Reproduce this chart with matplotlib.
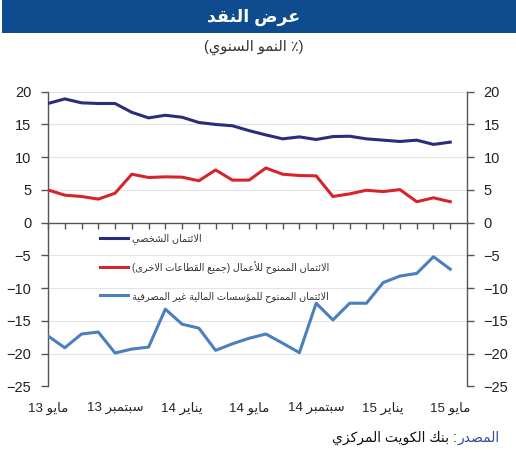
import re
import matplotlib
matplotlib.use("Agg")
import matplotlib.pyplot as plt
from matplotlib.patches import Rectangle

# ---------------- data ----------------
personal_credit = [18.2, 18.9, 18.3, 18.2, 18.2, 16.85, 16.0, 16.4, 16.1, 15.3, 15.0, 14.8, 14.05,
                   13.4, 12.8, 13.1, 12.7, 13.15, 13.2, 12.8, 12.6, 12.4, 12.6, 11.95, 12.3]
business_credit = [5.0, 4.2, 4.0, 3.6, 4.5, 7.4, 6.9, 7.0, 6.95, 6.4, 8.05, 6.5, 6.5,
                   8.35, 7.4, 7.2, 7.15, 4.0, 4.4, 4.95, 4.75, 5.05, 3.2, 3.8, 3.2]
nbfi_credit = [-17.3, -19.1, -17.0, -16.7, -19.9, -19.3, -19.0, -13.2, -15.5, -16.1, -19.5, -18.5, -17.65,
               -17.0, -18.4, -19.85, -12.3, -14.85, -12.3, -12.3, -9.15, -8.15, -7.75, -5.2, -7.1]
series_names = ["الائتمان الشخصي",
                "الائتمان الممنوح للأعمال (جميع القطاعات الاخرى)",
                "الائتمان الممنوح للمؤسسات المالية غير المصرفية"]
x_tick_labels = ["مايو 13", "سبتمبر 13", "يناير 14", "مايو 14", "سبتمبر 14", "يناير 15", "مايو 15"]
y_ticks = [-25, -20, -15, -10, -5, 0, 5, 10, 15, 20]
title = "عرض النقد"
subtitle = "(٪ النمو السنوي)"
source_label = "المصدر"
source_text = ": بنك الكويت المركزي"

# ---------------- minimal Arabic shaping + RTL ordering ----------------
_J4 = {'ئ': 0xFE89, 'ب': 0xFE8F, 'ت': 0xFE95, 'ث': 0xFE99, 'ج': 0xFE9D, 'ح': 0xFEA1, 'خ': 0xFEA5,
       'س': 0xFEB1, 'ش': 0xFEB5, 'ص': 0xFEB9, 'ض': 0xFEBD, 'ط': 0xFEC1, 'ظ': 0xFEC5, 'ع': 0xFEC9,
       'غ': 0xFECD, 'ف': 0xFED1, 'ق': 0xFED5, 'ك': 0xFED9, 'ل': 0xFEDD, 'م': 0xFEE1, 'ن': 0xFEE5,
       'ه': 0xFEE9, 'ي': 0xFEF1}
_J2 = {'آ': 0xFE81, 'أ': 0xFE83, 'ؤ': 0xFE85, 'إ': 0xFE87, 'ا': 0xFE8D, 'ة': 0xFE93, 'د': 0xFEA9,
       'ذ': 0xFEAB, 'ر': 0xFEAD, 'ز': 0xFEAF, 'و': 0xFEED, 'ى': 0xFEEF}
_J0 = {'ء': 0xFE80}
_LA = {'آ': 0xFEF5, 'أ': 0xFEF7, 'إ': 0xFEF9, 'ا': 0xFEFB}
_MIRROR = {'(': ')', ')': '('}


def _shape(s):
    toks = []
    i = 0
    while i < len(s):
        c = s[i]
        if c == 'ل' and i + 1 < len(s) and s[i + 1] in _LA:
            toks.append(('LA', s[i + 1]))
            i += 2
        else:
            toks.append(('C', c))
            i += 1

    def jp(t):
        return t[0] == 'LA' or t[1] in _J4 or t[1] in _J2

    def jn(t):
        return t[0] == 'C' and t[1] in _J4

    out = []
    for k, t in enumerate(toks):
        prev = toks[k - 1] if k > 0 else None
        nxt = toks[k + 1] if k + 1 < len(toks) else None
        cp = prev is not None and jn(prev) and jp(t)
        cn = nxt is not None and jn(t) and jp(nxt)
        kind, c = t
        if kind == 'LA':
            out.append(chr(_LA[c] + (1 if cp else 0)))
        elif c in _J4:
            off = 3 if (cp and cn) else 1 if cp else 2 if cn else 0
            out.append(chr(_J4[c] + off))
        elif c in _J2:
            out.append(chr(_J2[c] + (1 if cp else 0)))
        elif c in _J0:
            out.append(chr(_J0[c]))
        else:
            out.append(c)
    return ''.join(out)


def rtl(s):
    s = _shape(s)
    toks = re.findall(r'[0-9A-Za-z]+(?:[.,][0-9]+)*|.', s)
    return ''.join(_MIRROR.get(t, t) for t in reversed(toks))


# ---------------- figure ----------------
W, H = 516, 450
fig = plt.figure(figsize=(W / 100, H / 100), dpi=100)
FONT = ['Liberation Sans', 'DejaVu Sans']

# header bar
fig.patches.append(Rectangle((2 / W, 1 - 33 / H), 1, 33 / H, transform=fig.transFigure,
                             facecolor='#0f4c8f', edgecolor='none'))
fig.text(254 / W, 1 - 17 / H, rtl(title), color='white', fontsize=12.5, fontweight='bold',
         ha='center', va='center', family=FONT)
fig.text(254 / W, 1 - 47 / H, rtl(subtitle), color='#333333', fontsize=10.5,
         ha='center', va='center', family=FONT)

ax_left, ax_right = 48 / W, 467 / W
ax_top, ax_bottom = 1 - 91.7 / H, 1 - 386.4 / H
ax = fig.add_axes([ax_left, ax_bottom, ax_right - ax_left, ax_top - ax_bottom])

x = list(range(len(personal_credit)))
colors = ['#2b2d7c', '#d5242b', '#4a7fc0']
for vals, name, col in zip([personal_credit, business_credit, nbfi_credit], series_names, colors):
    ax.plot(x, vals, color=col, lw=2.2, label=rtl(name), solid_joinstyle='round', zorder=3)

ax.set_xlim(0, len(x))
ax.set_ylim(min(y_ticks), max(y_ticks))

# grid
for yv in y_ticks:
    if yv != 0:
        ax.axhline(yv, color='#e3e3e3', lw=0.8, zorder=1)

ax.spines['top'].set_visible(False)
for s in ['left', 'right', 'bottom']:
    ax.spines[s].set_color('#555555')
    ax.spines[s].set_linewidth(1.0)
ax.spines['bottom'].set_position(('data', 0))
ax.spines['bottom'].set_zorder(2)

ax.set_xticks(x)
ax.tick_params(axis='x', direction='out', length=4, width=1, color='#555555', labelbottom=False)
ax.set_yticks(y_ticks)
ax.tick_params(axis='y', direction='out', length=5, width=1, color='#555555',
               left=True, right=True, labelleft=True, labelright=True,
               labelsize=10.5, labelcolor='#222222', pad=7)
for lab in ax.get_yticklabels():
    lab.set_family(FONT)

# bottom category labels
sec = ax.secondary_xaxis(0)
sec.set_xticks(x[::4])
sec.set_xticklabels([rtl(t) for t in x_tick_labels], family=FONT, fontsize=9.5, color='#222222')
sec.tick_params(length=0, pad=11)
sec.spines['bottom'].set_visible(False)

leg = ax.legend(loc='upper left', bbox_to_anchor=(100 / W, 1 - 233 / H), bbox_transform=fig.transFigure,
                frameon=False, handlelength=2.9, handletextpad=0.4,
                labelspacing=1.75, borderpad=0, borderaxespad=0, prop={'family': FONT, 'size': 7})
for t in leg.get_texts():
    t.set_color('#333333')

# source line
r = fig.canvas.get_renderer()
t1 = fig.text(500 / W, 1 - 438 / H, rtl(source_label), color='#2b4f9e', fontsize=10,
              ha='right', va='center', family=FONT)
bb = t1.get_window_extent(renderer=r)
fig.text((bb.x0 - 1) / W, 1 - 438 / H, rtl(source_text), color='#111111', fontsize=10,
         ha='right', va='center', family=FONT)

fig.savefig('out.png', dpi=100)
